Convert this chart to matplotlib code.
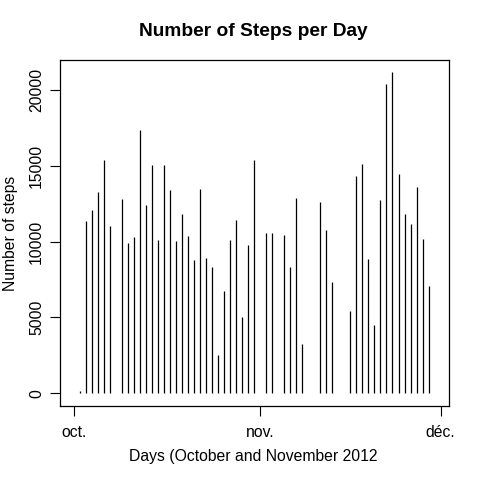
import datetime as dt

import matplotlib
matplotlib.use('Agg')
from matplotlib import pyplot as plt
import matplotlib.dates as mdates

plt.rcParams['font.family'] = ['Liberation Sans', 'DejaVu Sans']

# Total steps per day, Oct 1 - Nov 30 2012 (None = missing day)
days = [dt.date(2012, 10, 1) + dt.timedelta(days=i) for i in range(61)]
steps = [None, 126, 11352, 12116, 13294, 15420, 11015, None, 12811, 9900,
         10304, 17382, 12426, 15098, 10139, 15084, 13452, 10056, 11829, 10395,
         8821, 13460, 8918, 8355, 2492, 6778, 10119, 11458, 5018, 9819,
         15414, None, 10600, 10571, None, 10439, 8334, 12883, 3219, None,
         None, 12608, 10765, 7336, None, 41, 5441, 14339, 15110, 8841,
         4472, 12787, 20427, 21194, 14478, 11834, 11162, 13646, 10183, 7047,
         None]
tick_dates = [dt.date(2012, 10, 1), dt.date(2012, 11, 1), dt.date(2012, 12, 1)]
tick_labels = ['oct.', 'nov.', 'déc.']
ytick_vals = [0, 5000, 10000, 15000, 20000]

W = H = 480
fig = plt.figure(figsize=(4.8, 4.8), dpi=100)
ax = fig.add_axes([59.5 / W, (H - 406) / H, (449 - 59.5) / W, (406 - 59.5) / H])

x = mdates.date2num(days)
xs = [xi for xi, s in zip(x, steps) if s is not None]
ys = [s for s in steps if s is not None]
ax.vlines(xs, 0, ys, colors='black', linewidth=0.9)

# R-style 4% padding around the data range
xr = x[-1] - x[0]
ax.set_xlim(x[0] - 0.04 * xr, x[-1] + 0.04 * xr)
ymax = max(ys)
ax.set_ylim(-0.04 * ymax, ymax * 1.04)

ax.set_xticks(mdates.date2num(tick_dates))
ax.set_xticklabels(tick_labels)
ax.set_yticks(ytick_vals)
ax.set_yticklabels([str(v) for v in ytick_vals], rotation=90, va='center')
ax.tick_params(direction='out', length=7, width=0.8, labelsize=11.3, pad=7)
ax.tick_params(axis='y', pad=4)
for sp in ax.spines.values():
    sp.set_linewidth(0.9)

fig.text(253 / W, 1 - 32 / H, 'Number of Steps per Day', ha='center', va='center',
         fontsize=13.8, fontweight='bold')
fig.text(253 / W, 1 - 457 / H, 'Days (October and November 2012', ha='center', va='center',
         fontsize=11.3)
fig.text(11 / W, 1 - 233 / H, 'Number of steps', ha='center', va='center',
         rotation=90, fontsize=11.3)

fig.savefig('out.png', dpi=100)
